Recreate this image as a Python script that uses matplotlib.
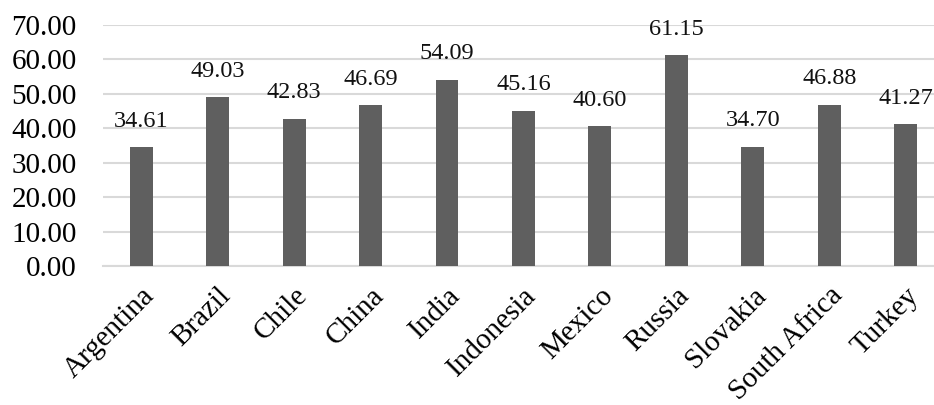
import numpy as np
import matplotlib
matplotlib.use("Agg")
import matplotlib.pyplot as plt

# data
countries = ["Argentina", "Brazil", "Chile", "China", "India", "Indonesia",
             "Mexico", "Russia", "Slovakia", "South Africa", "Turkey"]
values = [34.61, 49.03, 42.83, 46.69, 54.09, 45.16, 40.60, 61.15, 34.70, 46.88, 41.27]
yticks = [0, 10, 20, 30, 40, 50, 60, 70]

plt.rcParams["font.family"] = ["Liberation Serif", "DejaVu Serif"]

fig = plt.figure(figsize=(9.34, 4.05), dpi=100)
ax = fig.add_axes([103 / 934, 1 - 266 / 405, 831 / 934, 241 / 405])

x = np.arange(len(countries))
ax.bar(x, values, width=0.30, color="#5f5f5f", zorder=3)

for xi, v in zip(x, values):
    ax.annotate("%.2f" % v, (xi, v), xytext=(0, 11), textcoords="offset points",
                ha="center", va="bottom", fontsize=17.5, color="#111111")

ax.set_ylim(0, 70)
ax.set_xlim(-0.5, 10.37)
ax.set_yticks(yticks)
ax.set_yticklabels(["%.2f" % t for t in yticks], fontsize=21)
ax.set_xticks(x)
ax.set_xticklabels(countries, fontsize=21, rotation=45, ha="right",
                   rotation_mode="anchor")
ax.grid(axis="y", color="#d9d9d9", linewidth=1.5, zorder=0)
for s in ["top", "right", "left"]:
    ax.spines[s].set_visible(False)
ax.spines["bottom"].set_color("#d9d9d9")
ax.spines["bottom"].set_linewidth(1.5)
ax.tick_params(length=0, pad=12)
ax.tick_params(axis="y", pad=19)

plt.savefig("out.png", dpi=100)
